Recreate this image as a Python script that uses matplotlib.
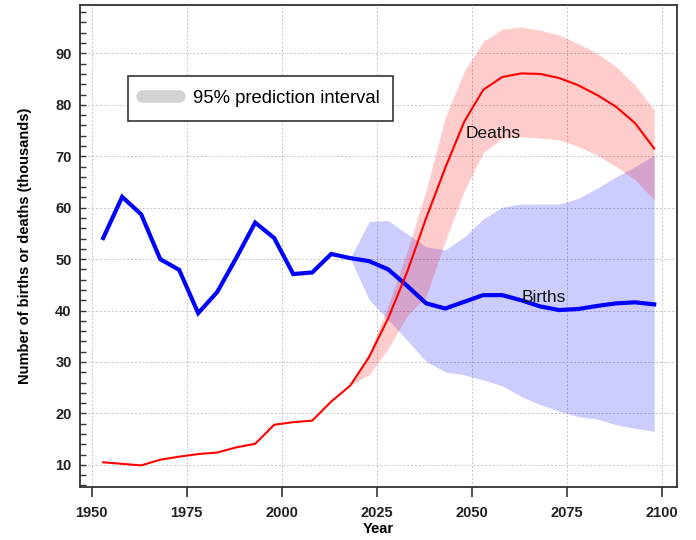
import matplotlib
matplotlib.use("Agg")
import matplotlib.pyplot as plt
from matplotlib.lines import Line2D
from matplotlib.ticker import MultipleLocator

plt.rcParams['font.family'] = ['Liberation Sans', 'DejaVu Sans']

years = list(range(1953, 2099, 5))
births = [54.1, 62.1, 58.7, 50.0, 47.9, 39.5, 43.6, 50.2, 57.1, 54.1,
          47.1, 47.4, 51.0, 50.2, 49.6, 48.0, 44.8, 41.4, 40.4, 41.7,
          43.0, 43.0, 42.0, 40.8, 40.1, 40.3, 40.9, 41.4, 41.6, 41.2]
deaths = [10.5, 10.2, 9.9, 11.0, 11.6, 12.1, 12.4, 13.4, 14.1, 17.8,
          18.3, 18.6, 22.3, 25.4, 31.0, 38.5, 47.5, 58.0, 67.7, 76.7,
          82.9, 85.4, 86.1, 86.0, 85.2, 83.8, 81.9, 79.6, 76.4, 71.5]

proj_years = list(range(2018, 2099, 5))
births_lo = [50.2, 42.1, 38.2, 34.2, 30.1, 28.1, 27.5, 26.5, 25.4, 23.3,
             21.7, 20.4, 19.4, 18.9, 17.8, 17.1, 16.5]
births_hi = [50.2, 57.3, 57.5, 54.9, 52.4, 51.8, 54.3, 57.8, 60.1, 60.7,
             60.7, 60.7, 61.8, 63.8, 66.0, 68.0, 70.2]
deaths_lo = [25.4, 27.6, 32.6, 39.0, 42.8, 53.5, 63.2, 70.7, 73.5, 73.8,
             73.5, 73.2, 71.9, 70.2, 68.0, 65.4, 61.5]
deaths_hi = [25.4, 31.8, 41.0, 51.5, 63.5, 77.5, 86.5, 92.3, 94.7, 95.1,
             94.5, 93.6, 91.9, 90.0, 87.4, 83.8, 79.0]

xticks = [1950, 1975, 2000, 2025, 2050, 2075, 2100]
yticks = [10, 20, 30, 40, 50, 60, 70, 80, 90]

fig = plt.figure(figsize=(6.96, 5.40), dpi=100)
ax = fig.add_axes([80/696, 1-487/540, 597/696, 482/540])

ax.fill_between(proj_years, births_lo, births_hi, color='blue', alpha=0.2, lw=0)
ax.fill_between(proj_years, deaths_lo, deaths_hi, color='red', alpha=0.2, lw=0)
ax.plot(years, births, color='blue', lw=3, solid_joinstyle='miter')
ax.plot(years, deaths, color='red', lw=1.5)

ax.text(2048.5, 74.5, 'Deaths', fontsize=12.5, va='center', ha='left', color='#111111')
ax.text(2063, 42.6, 'Births', fontsize=12.5, va='center', ha='left', color='#111111')

ax.set_xlim(1946.9, 2104.0)
ax.set_ylim(5.7, 99.4)
ax.set_xticks(xticks)
ax.set_yticks(yticks)
ax.yaxis.set_minor_locator(MultipleLocator(2))
ax.grid(True, which='major', color='#c4c4c4', linestyle=(0, (2, 2)), lw=0.7)
ax.set_axisbelow(True)

ax.tick_params(axis='x', which='major', direction='out', length=7, width=1.2,
               color='#333333', pad=7, labelsize=10.5, labelcolor='#222222')
ax.tick_params(axis='y', which='both', direction='in', length=4.3, width=1.0,
               color='#333333', pad=6, labelsize=10.5, labelcolor='#222222')
for lab in ax.get_xticklabels() + ax.get_yticklabels():
    lab.set_fontweight('bold')
for s in ax.spines.values():
    s.set_color('#333333')
    s.set_linewidth(1.3)

ax.set_xlabel('Year', fontsize=10.5, fontweight='bold', labelpad=1)
ax.set_ylabel('Number of births or deaths (thousands)', fontsize=10.5,
              fontweight='bold', labelpad=17)

handle = Line2D([0], [0], color='#d3d3d3', lw=9, solid_capstyle='round')
leg = ax.legend([handle], ['95% prediction interval'], loc='upper left',
                bbox_to_anchor=(48/597, 411/482), fontsize=13.3, fancybox=False,
                edgecolor='#333333', framealpha=1, handlelength=2.0,
                handletextpad=0.75, borderpad=0.75, borderaxespad=0)
leg.get_frame().set_linewidth(1.2)

fig.savefig('out.png', dpi=100)
